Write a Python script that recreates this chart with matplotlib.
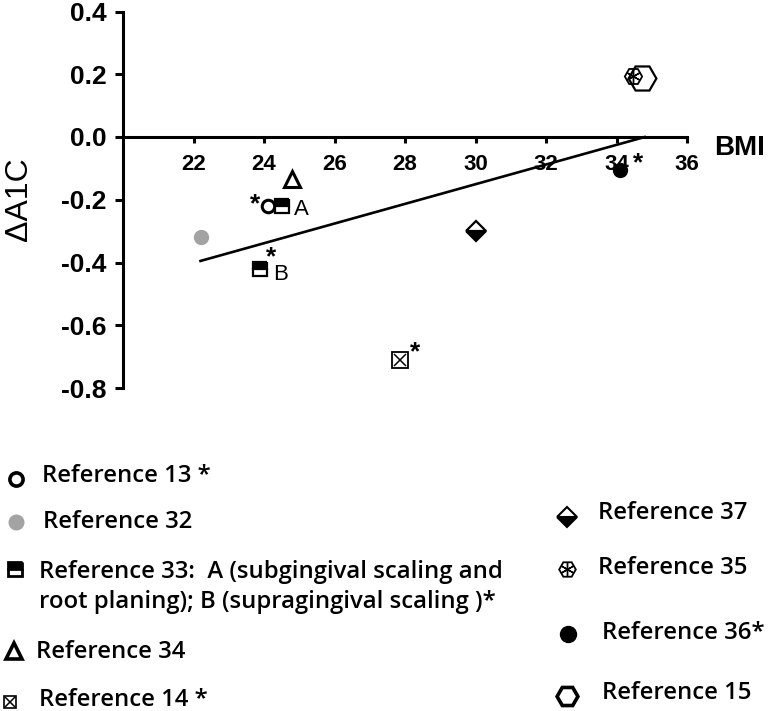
import matplotlib
matplotlib.use("Agg")
import matplotlib.pyplot as plt

plt.rcParams['axes.unicode_minus'] = False
plt.rcParams['font.family'] = ['Liberation Sans', 'DejaVu Sans']

# ---------------- data ----------------
ref13_bmi, ref13_a1c = [24.1], [-0.22]
ref32_bmi, ref32_a1c = [22.2], [-0.32]
ref33_bmi, ref33_a1c = [24.5, 23.9], [-0.22, -0.42]
ref33_labels = ['A', 'B']
ref34_bmi, ref34_a1c = [24.8], [-0.135]
ref14_bmi, ref14_a1c = [27.85], [-0.71]
ref37_bmi, ref37_a1c = [30.0], [-0.30]
ref35_bmi, ref35_a1c = [34.47], [0.195]
ref36_bmi, ref36_a1c = [34.1], [-0.105]
ref15_bmi, ref15_a1c = [34.72], [0.188]
trend_bmi = [22.2, 34.8]
trend_a1c = [-0.395, 0.0]

xticks = [22, 24, 26, 28, 30, 32, 34, 36]
yticks = [-0.8, -0.6, -0.4, -0.2, 0.0, 0.2, 0.4]
ytick_labels = ['-0.8', '-0.6', '-0.4', '-0.2', '0.0', '0.2', '0.4']

legend_left = ['Reference 13 *', 'Reference 32',
               'Reference 33:  A (subgingival scaling and\nroot planing); B (supragingival scaling )*',
               'Reference 34', 'Reference 14 *']
legend_right = ['Reference 37', 'Reference 35', 'Reference 36*', 'Reference 15']

W, H = 772, 711
fig = plt.figure(figsize=(W / 100, H / 100), dpi=100)
ax = fig.add_axes([123 / W, (H - 388) / H, (687 - 123) / W, (388 - 11.5) / H])
ax.set_xlim(20, 36)
ax.set_ylim(-0.8, 0.4)

for s in ['top', 'right']:
    ax.spines[s].set_visible(False)
ax.spines['bottom'].set_position(('data', 0))
ax.spines['left'].set_linewidth(2.2)
ax.spines['bottom'].set_linewidth(2.2)
ax.spines['left'].set_bounds(-0.8, 0.4)
ax.spines['bottom'].set_bounds(20, 36)

ax.set_xticks(xticks)
ax.set_xticklabels([str(t) for t in xticks], fontsize=16, fontweight='bold')
ax.set_yticks(yticks)
ax.set_yticklabels(ytick_labels, fontsize=19, fontweight='bold')
ax.tick_params(axis='x', direction='out', length=4, width=2.2, pad=8)
ax.tick_params(axis='y', direction='out', length=6, width=2.2, pad=6)

# trend line
ax.plot(trend_bmi, trend_a1c, color='black', lw=1.9, zorder=2)

kw = dict(linestyle='none', clip_on=False, zorder=3)
mew = 1.6
ax.plot(ref13_bmi, ref13_a1c, marker='o', ms=9, mfc='white', mec='black', mew=2.2, **kw)
ax.plot(ref32_bmi, ref32_a1c, marker='o', ms=10, mfc='#a3a3a3', mec='#a3a3a3', **kw)
ax.plot(ref33_bmi, ref33_a1c, marker='s', ms=10, fillstyle='top', mfc='black',
        markerfacecoloralt='white', mec='black', mew=mew, **kw)
ax.plot(ref34_bmi, ref34_a1c, marker='^', ms=12, mfc='white', mec='black', mew=2.2, **kw)
ax.plot(ref14_bmi, ref14_a1c, marker='s', ms=11, mfc='white', mec='black', mew=1.3, **kw)
ax.plot(ref14_bmi, ref14_a1c, marker='x', ms=8, mec='black', mew=1.1, **kw)
ax.plot(ref37_bmi, ref37_a1c, marker='D', ms=10, fillstyle='bottom', mfc='black',
        markerfacecoloralt='white', mec='black', mew=mew, **kw)
ax.plot(ref15_bmi, ref15_a1c, marker='H', ms=20, mfc='none', mec='black', mew=1.6, **kw)
ax.plot(ref35_bmi, ref35_a1c, marker='H', ms=12.5, mfc='none', mec='black', mew=1.3, **kw)
ax.plot(ref35_bmi, ref35_a1c, marker=(6, 2, 0), ms=11, mec='black', mew=1.0, **kw)
ax.plot(ref36_bmi, ref36_a1c, marker='o', ms=10, mfc='black', mec='black', **kw)

# annotations
ast = dict(fontsize=19, fontweight='bold', ha='center', va='center', textcoords='offset pixels')
ax.annotate('*', (ref13_bmi[0], ref13_a1c[0]), xytext=(-12, 2), **ast)
label_offsets = [(20, -3), (20, -6)]
for bx, by, lab, off in zip(ref33_bmi, ref33_a1c, ref33_labels, label_offsets):
    ax.annotate(lab, (bx, by), xytext=off, textcoords='offset pixels',
                fontsize=16, ha='center', va='center')
ax.annotate('*', (ref33_bmi[1], ref33_a1c[1]), xytext=(11, 11), **ast)
ax.annotate('*', (ref14_bmi[0], ref14_a1c[0]), xytext=(15, 7), **ast)
ax.annotate('*', (ref36_bmi[0], ref36_a1c[0]), xytext=(18, 7), **ast)

fig.text(740 / W, 1 - 148 / H, 'BMI', fontsize=20, fontweight='bold', ha='center', va='center')
fig.text(19 / W, 1 - 199 / H, 'ΔA1C', fontsize=23, rotation=90, ha='center', va='center')

# ---------------- legend ----------------
lax = fig.add_axes([0, 0, 1, 1])
lax.set_xlim(0, W)
lax.set_ylim(H, 0)
lax.axis('off')
lkw = dict(linestyle='none', clip_on=False)
lfont = dict(fontsize=17.2, family=['Open Sans', 'DejaVu Sans'], fontweight='semibold',
             va='center', ha='left')

lax.plot([16], [479], marker='o', ms=9.5, mfc='white', mec='black', mew=2.6, **lkw)
lax.plot([16], [522], marker='o', ms=10.5, mfc='#a3a3a3', mec='#a3a3a3', **lkw)
lax.plot([15], [569], marker='s', ms=10.5, fillstyle='top', mfc='black',
         markerfacecoloralt='white', mec='black', mew=2.0, **lkw)
lax.plot([14], [651], marker='^', ms=11, mfc='white', mec='black', mew=2.6, **lkw)
lax.plot([10], [702], marker='s', ms=9, mfc='white', mec='black', mew=1.2, **lkw)
lax.plot([10], [702], marker='x', ms=6.5, mec='black', mew=1.1, **lkw)

lax.plot([567], [517], marker='D', ms=10.5, fillstyle='bottom', mfc='black',
         markerfacecoloralt='white', mec='black', mew=1.5, **lkw)
lax.plot([567], [569], marker='H', ms=12, mfc='none', mec='black', mew=1.3, **lkw)
lax.plot([567], [569], marker=(6, 2, 0), ms=10.5, mec='black', mew=1.0, **lkw)
lax.plot([568], [634], marker='o', ms=11.5, mfc='black', mec='black', **lkw)
lax.plot([567], [696], marker='H', ms=15, mfc='none', mec='black', mew=2.6, **lkw)

left_pos = [(42, 476), (43, 522), (39, 587), (36, 652), (39, 700)]
for (x, y), t in zip(left_pos, legend_left):
    lax.text(x, y, t, linespacing=1.35, **lfont)
right_pos = [(598, 513), (598, 568), (602, 633), (602, 693)]
for (x, y), t in zip(right_pos, legend_right):
    lax.text(x, y, t, **lfont)

fig.savefig('out.png', dpi=100)
